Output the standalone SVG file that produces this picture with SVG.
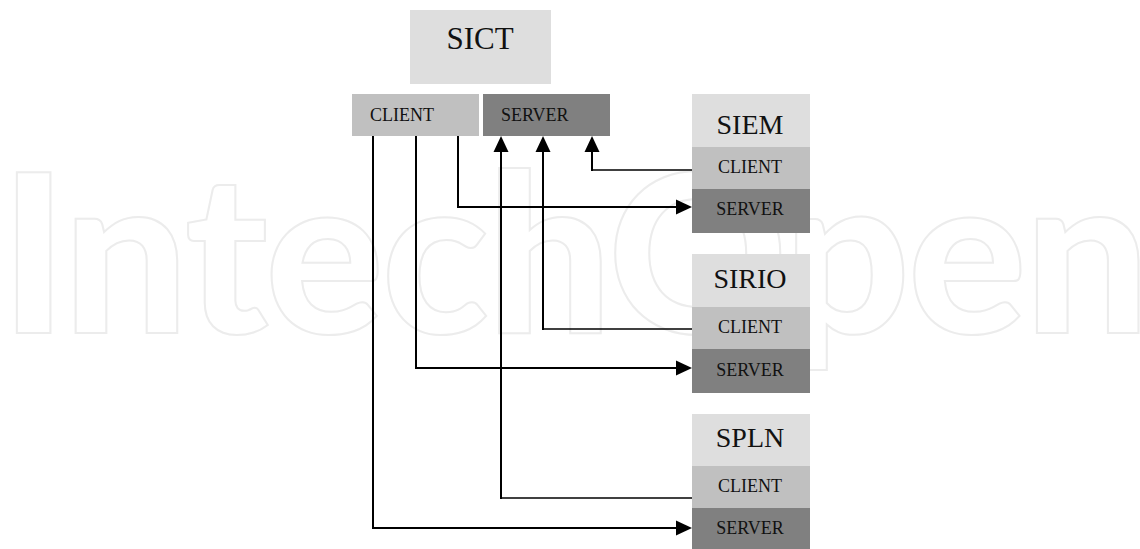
<svg xmlns="http://www.w3.org/2000/svg" width="1140" height="549" viewBox="0 0 1140 549">
<style>
.wm{font-family:Lato,"Liberation Sans",sans-serif;font-weight:900;font-size:222px;fill:none;stroke:#ececec;stroke-width:2}
.title{fill:#dedede}
.cl{fill:#c0c0c0}
.sv{fill:#808080}
.t{font-family:"Liberation Serif","Times New Roman",serif;fill:#111}
.big{font-size:28px}
.xl{font-size:31px}
.sm{font-size:18px}
.c{text-anchor:middle}
.ln{fill:none;stroke:#000;stroke-width:2}
.ln1{fill:none;stroke:#000;stroke-width:1.5}
</style>
<defs>
<marker id="ah" viewBox="0 0 16 16" refX="0" refY="8" markerWidth="16" markerHeight="16" markerUnits="userSpaceOnUse" orient="auto">
<path d="M0,0.5 L16,8 L0,15.5 Z" fill="#000"/>
</marker>
</defs>
<rect width="1140" height="549" fill="#fff"/>
<text class="wm" x="0" y="333" textLength="1150" lengthAdjust="spacing">IntechOpen</text>

<g id="SICT">
<rect class="title" x="410" y="10" width="141" height="74"/>
<text class="t xl c" x="480" y="49">SICT</text>
</g>
<g id="SICT-CLIENT">
<rect class="cl" x="352" y="94" width="127" height="42"/>
<text class="t sm" x="370" y="121">CLIENT</text>
</g>
<g id="SICT-SERVER">
<rect class="sv" x="483" y="94" width="127" height="42"/>
<text class="t sm" x="501" y="121">SERVER</text>
</g>

<g id="SIEM">
<rect class="title" x="692" y="94" width="118" height="53"/>
<rect class="cl" x="692" y="147" width="118" height="42"/>
<rect class="sv" x="692" y="189" width="118" height="44"/>
<text class="t big c" x="750" y="134">SIEM</text>
<text class="t sm c" x="750" y="173">CLIENT</text>
<text class="t sm c" x="750" y="215">SERVER</text>
</g>

<g id="SIRIO">
<rect class="title" x="692" y="254" width="118" height="53"/>
<rect class="cl" x="692" y="307" width="118" height="42"/>
<rect class="sv" x="692" y="349" width="118" height="44"/>
<text class="t big c" x="750" y="288">SIRIO</text>
<text class="t sm c" x="750" y="333">CLIENT</text>
<text class="t sm c" x="750" y="376">SERVER</text>
</g>

<g id="SPLN">
<rect class="title" x="692" y="414" width="118" height="52"/>
<rect class="cl" x="692" y="466" width="118" height="42"/>
<rect class="sv" x="692" y="508" width="118" height="44"/>
<text class="t big c" x="750" y="447">SPLN</text>
<text class="t sm c" x="750" y="492">CLIENT</text>
<text class="t sm c" x="750" y="534">SERVER</text>
</g>

<g id="connectors">
<path class="ln" d="M458,136 V207 H676" marker-end="url(#ah)"/>
<path class="ln" d="M416,136 V368 H676" marker-end="url(#ah)"/>
<path class="ln" d="M373,136 V528 H676" marker-end="url(#ah)"/>
<path class="ln1" d="M692,170 H592"/>
<path class="ln" d="M592,171 V152" marker-end="url(#ah)"/>
<path class="ln1" d="M692,329 H543"/>
<path class="ln" d="M543,330 V152" marker-end="url(#ah)"/>
<path class="ln1" d="M692,498 H501"/>
<path class="ln" d="M501,499 V152" marker-end="url(#ah)"/>
</g>
</svg>
